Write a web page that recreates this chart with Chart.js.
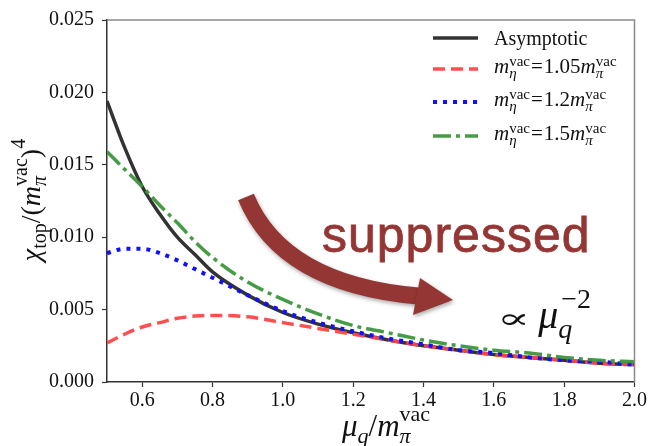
<!DOCTYPE html>
<html>
<head>
<meta charset="utf-8">
<script src="https://cdn.jsdelivr.net/npm/chart.js@4.4.1/dist/chart.umd.min.js"></script>
<style>
  html, body { margin: 0; padding: 0; background: #fff; }
  #wrap { width: 649px; height: 446px; }
</style>
</head>
<body>
<div id="wrap"><canvas id="myChart" width="649" height="446"></canvas></div>
<script>
// values
const muValues   = [0.5, 0.55, 0.6, 0.65, 0.7, 0.75, 0.8, 0.9, 1.0, 1.1, 1.2, 1.3, 1.4, 1.5, 1.6, 1.7, 1.8, 1.9, 2.0];
const asymptotic = [0.0194, 0.0162, 0.0135, 0.0116, 0.0100, 0.0088, 0.0076, 0.0060, 0.0048, 0.0040, 0.0034, 0.0029, 0.0025, 0.0022, 0.0019, 0.0017, 0.0015, 0.0013, 0.0012];
const eta105     = [0.0027, 0.0033, 0.0038, 0.0041, 0.0044, 0.00455, 0.0046, 0.0045, 0.0041, 0.0037, 0.0033, 0.0029, 0.0025, 0.0022, 0.0019, 0.0017, 0.0015, 0.0013, 0.0012];
const eta12      = [0.0089, 0.0092, 0.0092, 0.0089, 0.0084, 0.0078, 0.0072, 0.0060, 0.0049, 0.0041, 0.0035, 0.0030, 0.0026, 0.0022, 0.0020, 0.0017, 0.0015, 0.0014, 0.0012];
const eta15      = [0.0159, 0.0147, 0.0135, 0.0122, 0.0110, 0.0097, 0.0086, 0.0069, 0.0057, 0.0047, 0.0039, 0.0034, 0.0029, 0.0025, 0.0022, 0.0020, 0.0017, 0.0015, 0.0014];

const xTicks = [0.6, 0.8, 1.0, 1.2, 1.4, 1.6, 1.8, 2.0];
const yTicks = [0.000, 0.005, 0.010, 0.015, 0.020, 0.025];

const SERIF = '"Liberation Serif", "Times New Roman", serif';
const BLACK = '#333333';
const RED = 'rgba(255, 70, 70, 0.95)';
const BLUE = '#1010ff';
const GREEN = 'rgba(60, 150, 60, 0.95)';
const ARROW = '#943634';

const toPoints = ys => muValues.map((x, i) => ({ x: x, y: ys[i] }));

// rich text helpers (sub/superscripts)
function segWidth(ctx, s) {
    if (s.stack) {
        return Math.max(...s.stack.map(p => { ctx.font = p.f; return ctx.measureText(p.t).width + (p.dx || 0); }));
    }
    ctx.font = s.f;
    return ctx.measureText(s.t).width * (s.sx || 1) + (s.gap || 0) + (s.pre || 0);
}
function drawRich(ctx, segs, x, y, align) {
    const total = segs.reduce((a, s) => a + segWidth(ctx, s), 0);
    let cx = align === 'center' ? x - total / 2 : x;
    ctx.textAlign = 'left';
    ctx.textBaseline = 'alphabetic';
    segs.forEach(s => {
        const w = segWidth(ctx, s);
        (s.stack || [s]).forEach(p => {
            ctx.font = p.f;
            const px = cx + (p.dx || 0) + (p.pre || 0);
            const py = y + (p.dy || 0);
            if (p.sx) {
                ctx.save();
                ctx.translate(px, py);
                ctx.scale(p.sx, 1);
                ctx.fillText(p.t, 0, 0);
                ctx.restore();
            } else {
                ctx.fillText(p.t, px, py);
            }
        });
        cx += w;
    });
}

const f = (size, italic) => (italic ? 'italic ' : '') + size + 'px ' + SERIF;

const etaLabel = val => [
    { t: 'm', f: f(21, true) }, { stack: [{ t: 'vac', f: f(15), dy: -7 }, { t: 'η', f: f(15, true), dy: 5 }] },
    { t: '=', f: f(21), pre: 1, gap: 1 }, { t: val, f: f(21) }, { t: 'm', f: f(21, true) },
    { stack: [{ t: 'vac', f: f(15), dy: -7 }, { t: 'π', f: f(15, true), dy: 5 }] }
];

const legendRows = [
    { color: BLACK, dash: [], width: 3.5, segs: [{ t: 'Asymptotic', f: f(20) }] },
    { color: RED, dash: [12, 6], width: 3.5, segs: etaLabel('1.05') },
    { color: BLUE, dash: [4, 6], width: 4, segs: etaLabel('1.2') },
    { color: GREEN, dash: [18, 5, 4, 5], width: 3.5, segs: etaLabel('1.5') }
];
const legendY = [38, 69, 102, 136];

const decorations = {
    id: 'decorations',
    afterDraw(chart) {
        const ctx = chart.ctx;
        const a = chart.chartArea;
        ctx.save();

        // top and right frame
        ctx.strokeStyle = '#8a8a8a';
        ctx.lineWidth = 1.5;
        ctx.beginPath();
        ctx.moveTo(a.left, a.top);
        ctx.lineTo(a.right, a.top);
        ctx.lineTo(a.right, a.bottom);
        ctx.stroke();

        // legend
        legendRows.forEach((row, i) => {
            const y = legendY[i];
            ctx.strokeStyle = row.color;
            ctx.lineWidth = row.width;
            ctx.setLineDash(row.dash);
            ctx.beginPath();
            ctx.moveTo(433, y);
            ctx.lineTo(478, y);
            ctx.stroke();
            ctx.setLineDash([]);
            ctx.fillStyle = '#111';
            drawRich(ctx, row.segs, 494, y + (i === 0 ? 7 : 4));
        });

        // curved arrow
        ctx.save();
        ctx.shadowColor = 'rgba(0,0,0,0.35)';
        ctx.shadowBlur = 4;
        ctx.shadowOffsetX = 1;
        ctx.shadowOffsetY = 2;
        ctx.strokeStyle = ARROW;
        ctx.fillStyle = ARROW;
        ctx.lineWidth = 17;
        ctx.lineCap = 'butt';
        ctx.beginPath();
        ctx.moveTo(246, 197);
        ctx.quadraticCurveTo(282, 284, 418, 296);
        ctx.stroke();
        ctx.beginPath();
        ctx.moveTo(420, 278);
        ctx.lineTo(453, 300);
        ctx.lineTo(413, 315);
        ctx.closePath();
        ctx.fill();
        ctx.restore();

        // "suppressed"
        ctx.fillStyle = ARROW;
        ctx.strokeStyle = ARROW;
        ctx.lineWidth = 0.8;
        ctx.font = '50px "Liberation Sans", Arial, sans-serif';
        ctx.letterSpacing = '1px';
        ctx.textAlign = 'left';
        ctx.textBaseline = 'alphabetic';
        ctx.fillText('suppressed', 322, 252);
        ctx.strokeText('suppressed', 322, 252);
        ctx.letterSpacing = '0px';

        // proportional-to label
        ctx.fillStyle = '#111';
        drawRich(ctx, [
            { t: '∝', f: '28px "DejaVu Serif", serif', sx: 1.75, gap: 8 },
            { t: 'μ', f: f(40, true) },
            { stack: [{ t: '−2', f: f(28), dy: -20, dx: 3 }, { t: 'q', f: f(28, true), dy: 10 }] }
        ], 497, 328);

        // axis titles
        drawRich(ctx, [
            { t: 'μ', f: f(31, true) }, { t: 'q', f: f(22, true), dy: 7 },
            { t: '/', f: f(31) }, { t: 'm', f: f(31, true) },
            { stack: [{ t: 'vac', f: f(22), dy: -15 }, { t: 'π', f: f(22, true), dy: 7 }] }
        ], 386, 436, 'center');

        ctx.save();
        ctx.translate(40, 200);
        ctx.rotate(-Math.PI / 2);
        drawRich(ctx, [
            { t: 'χ', f: f(28, true) }, { t: 'top', f: f(20), dy: 6 },
            { t: '/(', f: f(28) }, { t: 'm', f: f(28, true) },
            { stack: [{ t: 'vac', f: f(20), dy: -13 }, { t: 'π', f: f(20, true), dy: 6 }] },
            { t: ')', f: f(28) }, { t: '4', f: f(20), dy: -15 }
        ], 0, 0, 'center');
        ctx.restore();

        ctx.restore();
    }
};

const lineStyle = (label, ys, color, dash, width, order) => ({
    label: label,
    data: toPoints(ys),
    borderColor: color,
    borderDash: dash,
    borderWidth: width,
    pointRadius: 0,
    fill: false,
    cubicInterpolationMode: 'monotone',
    borderCapStyle: 'butt',
    order: order
});

const config = {
    type: 'line',
    data: {
        datasets: [
            lineStyle('Asymptotic', asymptotic, BLACK, [], 3.5, 4),
            lineStyle('m_eta = 1.05 m_pi', eta105, RED, [12, 6], 3.5, 3),
            lineStyle('m_eta = 1.2 m_pi', eta12, BLUE, [4, 6], 4, 2),
            lineStyle('m_eta = 1.5 m_pi', eta15, GREEN, [18, 5, 4, 5], 3.5, 1)
        ]
    },
    options: {
        responsive: false,
        animation: false,
        layout: { padding: { left: 0, top: 13, right: 12, bottom: 0 } },
        plugins: { legend: { display: false }, tooltip: { enabled: false } },
        scales: {
            x: {
                type: 'linear',
                min: 0.5,
                max: 2.0,
                afterBuildTicks: s => { s.ticks = xTicks.map(v => ({ value: v })); },
                afterFit: s => { s.height = 64; },
                border: { color: BLACK, width: 1.5 },
                grid: { drawOnChartArea: false, drawTicks: true, tickLength: 5, tickColor: BLACK, tickWidth: 1.2 },
                ticks: {
                    font: { family: SERIF, size: 20 },
                    color: '#111',
                    padding: 2,
                    maxRotation: 0,
                    callback: v => v.toFixed(1)
                }
            },
            y: {
                type: 'linear',
                min: 0,
                max: 0.025,
                afterBuildTicks: s => { s.ticks = yTicks.map(v => ({ value: v })); },
                afterFit: s => { s.width = 107; },
                border: { color: BLACK, width: 1.5 },
                grid: { drawOnChartArea: false, drawTicks: true, tickLength: 5, tickColor: BLACK, tickWidth: 1.2 },
                ticks: {
                    font: { family: SERIF, size: 20 },
                    color: '#111',
                    padding: 8,
                    callback: v => v.toFixed(3)
                }
            }
        }
    },
    plugins: [decorations]
};

const myChart = new Chart(document.getElementById('myChart'), config);
</script>
</body>
</html>
